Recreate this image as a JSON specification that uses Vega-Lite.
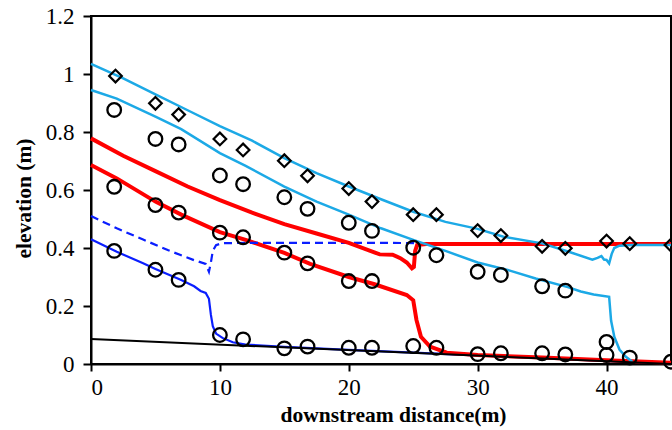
{
  "$schema": "https://vega.github.io/schema/vega-lite/v6.json",
  "width": 580,
  "height": 348,
  "autosize": {"type": "none"},
  "padding": {"left": 91, "top": 16, "right": 1, "bottom": 66},
  "background": "white",
  "config": {
    "view": {"stroke": "#000", "strokeWidth": 2},
    "axis": {
      "grid": false,
      "labelFont": "Liberation Serif", "labelFontSize": 23, "labelColor": "#000",
      "titleFont": "Liberation Serif", "titleFontSize": 21.5, "titleFontWeight": "bold", "titleColor": "#000",
      "domainColor": "#000", "domainWidth": 2, "tickColor": "#000", "tickWidth": 2
    }
  },
  "datasets": {
    "bed": [{"x": 0, "y": 0.086}, {"x": 45, "y": 0.0}],
    "blueSolid": [
      {"x": 0, "y": 0.43}, {"x": 2, "y": 0.387}, {"x": 4, "y": 0.348}, {"x": 5, "y": 0.328},
      {"x": 7, "y": 0.29}, {"x": 8, "y": 0.268}, {"x": 8.5, "y": 0.252}, {"x": 8.9, "y": 0.245},
      {"x": 9.15, "y": 0.225}, {"x": 9.3, "y": 0.17}, {"x": 9.45, "y": 0.13}, {"x": 9.7, "y": 0.105},
      {"x": 10.2, "y": 0.09}, {"x": 11, "y": 0.075}, {"x": 12, "y": 0.067}, {"x": 15, "y": 0.059},
      {"x": 20, "y": 0.049}, {"x": 25, "y": 0.039}, {"x": 30, "y": 0.03}, {"x": 35, "y": 0.02},
      {"x": 40, "y": 0.011}, {"x": 45, "y": 0.002}
    ],
    "blueDashed": [
      {"x": 0, "y": 0.51}, {"x": 2, "y": 0.468}, {"x": 4, "y": 0.43}, {"x": 6, "y": 0.392},
      {"x": 8, "y": 0.358}, {"x": 8.9, "y": 0.345}, {"x": 9.15, "y": 0.318}, {"x": 9.3, "y": 0.35},
      {"x": 9.45, "y": 0.39}, {"x": 9.7, "y": 0.41}, {"x": 10.2, "y": 0.417}, {"x": 15, "y": 0.418},
      {"x": 20, "y": 0.418}, {"x": 25.5, "y": 0.417}
    ],
    "redUpper": [
      {"x": 0, "y": 0.778}, {"x": 2.5, "y": 0.718}, {"x": 5, "y": 0.665}, {"x": 7.5, "y": 0.612},
      {"x": 10, "y": 0.565}, {"x": 12.5, "y": 0.522}, {"x": 15, "y": 0.482}, {"x": 17.5, "y": 0.45},
      {"x": 20, "y": 0.418}, {"x": 22.4, "y": 0.378}, {"x": 23.4, "y": 0.377}, {"x": 24, "y": 0.365},
      {"x": 24.5, "y": 0.35}, {"x": 24.9, "y": 0.33}, {"x": 25.05, "y": 0.335}, {"x": 25.15, "y": 0.39},
      {"x": 25.3, "y": 0.41}, {"x": 26, "y": 0.414}, {"x": 35, "y": 0.414}, {"x": 45, "y": 0.414}
    ],
    "redLower": [
      {"x": 0, "y": 0.686}, {"x": 2, "y": 0.64}, {"x": 5, "y": 0.56}, {"x": 7, "y": 0.515},
      {"x": 10, "y": 0.455}, {"x": 12, "y": 0.428}, {"x": 15, "y": 0.383}, {"x": 17, "y": 0.345},
      {"x": 20, "y": 0.3}, {"x": 22, "y": 0.275}, {"x": 24.5, "y": 0.238}, {"x": 25, "y": 0.22},
      {"x": 25.25, "y": 0.152}, {"x": 25.6, "y": 0.094}, {"x": 26.3, "y": 0.06}, {"x": 27.6, "y": 0.039},
      {"x": 30, "y": 0.031}, {"x": 35, "y": 0.022}, {"x": 40, "y": 0.013}, {"x": 45, "y": 0.004}
    ],
    "cyanUpper": [
      {"x": 0, "y": 1.035}, {"x": 2.5, "y": 0.985}, {"x": 5, "y": 0.93}, {"x": 7.5, "y": 0.875},
      {"x": 10, "y": 0.82}, {"x": 12.5, "y": 0.77}, {"x": 15, "y": 0.71}, {"x": 17.5, "y": 0.658},
      {"x": 20, "y": 0.612}, {"x": 22.5, "y": 0.568}, {"x": 25, "y": 0.525}, {"x": 27.5, "y": 0.49},
      {"x": 30, "y": 0.466}, {"x": 32, "y": 0.439}, {"x": 35, "y": 0.416}, {"x": 37, "y": 0.388},
      {"x": 38.9, "y": 0.36}, {"x": 39.3, "y": 0.366}, {"x": 39.6, "y": 0.372}, {"x": 39.8, "y": 0.36},
      {"x": 40, "y": 0.359}, {"x": 40.2, "y": 0.347}, {"x": 40.4, "y": 0.38}, {"x": 40.6, "y": 0.4},
      {"x": 41, "y": 0.408}, {"x": 42, "y": 0.41}, {"x": 45, "y": 0.41}
    ],
    "cyanLower": [
      {"x": 0, "y": 0.945}, {"x": 2, "y": 0.915}, {"x": 5, "y": 0.853}, {"x": 7, "y": 0.81},
      {"x": 10, "y": 0.727}, {"x": 12, "y": 0.683}, {"x": 15, "y": 0.612}, {"x": 17.5, "y": 0.56},
      {"x": 20, "y": 0.515}, {"x": 22.5, "y": 0.468}, {"x": 25, "y": 0.428}, {"x": 27.5, "y": 0.39},
      {"x": 30, "y": 0.35}, {"x": 32.5, "y": 0.322}, {"x": 34.5, "y": 0.295}, {"x": 37, "y": 0.265},
      {"x": 38, "y": 0.25}, {"x": 39, "y": 0.24}, {"x": 40.2, "y": 0.232}, {"x": 40.35, "y": 0.15},
      {"x": 40.6, "y": 0.094}, {"x": 41, "y": 0.05}, {"x": 41.5, "y": 0.025}, {"x": 42, "y": 0.008}
    ],
    "diamonds": [
      {"x": 1.9, "y": 0.993}, {"x": 5, "y": 0.899}, {"x": 6.8, "y": 0.86}, {"x": 10, "y": 0.776},
      {"x": 11.8, "y": 0.738}, {"x": 15, "y": 0.701}, {"x": 16.8, "y": 0.649}, {"x": 20, "y": 0.605},
      {"x": 21.8, "y": 0.56}, {"x": 25, "y": 0.515}, {"x": 26.8, "y": 0.515}, {"x": 30, "y": 0.46},
      {"x": 31.8, "y": 0.443}, {"x": 35, "y": 0.406}, {"x": 36.8, "y": 0.399}, {"x": 40, "y": 0.424},
      {"x": 41.8, "y": 0.415}, {"x": 45, "y": 0.41}
    ],
    "circles": [
      {"x": 1.8, "y": 0.876}, {"x": 5, "y": 0.776}, {"x": 6.8, "y": 0.757}, {"x": 10, "y": 0.65},
      {"x": 11.8, "y": 0.62}, {"x": 15, "y": 0.575}, {"x": 16.8, "y": 0.535}, {"x": 20, "y": 0.487},
      {"x": 21.8, "y": 0.459}, {"x": 25, "y": 0.401}, {"x": 26.8, "y": 0.375}, {"x": 30, "y": 0.318},
      {"x": 31.8, "y": 0.307}, {"x": 35, "y": 0.268}, {"x": 36.8, "y": 0.253}, {"x": 40, "y": 0.076},
      {"x": 41.8, "y": 0.022}, {"x": 45, "y": 0.008},
      {"x": 1.8, "y": 0.611}, {"x": 5, "y": 0.548}, {"x": 6.8, "y": 0.522}, {"x": 10, "y": 0.453},
      {"x": 11.8, "y": 0.437}, {"x": 15, "y": 0.384}, {"x": 16.8, "y": 0.347}, {"x": 20, "y": 0.286},
      {"x": 21.8, "y": 0.286}, {"x": 25, "y": 0.062}, {"x": 26.8, "y": 0.056}, {"x": 30, "y": 0.034},
      {"x": 31.8, "y": 0.037}, {"x": 35, "y": 0.037}, {"x": 36.8, "y": 0.033}, {"x": 40, "y": 0.031},
      {"x": 1.8, "y": 0.39}, {"x": 5, "y": 0.325}, {"x": 6.8, "y": 0.29}, {"x": 10, "y": 0.1},
      {"x": 11.8, "y": 0.085}, {"x": 15, "y": 0.054}, {"x": 16.8, "y": 0.06}, {"x": 20, "y": 0.056},
      {"x": 21.8, "y": 0.056}
    ]
  },
  "encoding": {
    "x": {
      "field": "x", "type": "quantitative",
      "scale": {"domain": [0, 45], "nice": false, "zero": false},
      "axis": {
        "values": [0, 10, 20, 30, 40], "format": "d",
        "title": "downstream distance(m)",
        "tickSize": 7, "labelPadding": 5, "titlePadding": 5, "titleX": 302
      }
    },
    "y": {
      "field": "y", "type": "quantitative",
      "scale": {"domain": [0, 1.2], "nice": false, "zero": false},
      "axis": {
        "values": [0, 0.2, 0.4, 0.6, 0.8, 1, 1.2], "format": "~g",
        "title": "elevation (m)",
        "tickSize": 8, "labelPadding": 9, "titlePadding": 10, "titleY": 182
      }
    }
  },
  "layer": [
    {"data": {"name": "blueSolid"}, "mark": {"type": "line", "color": "#0A1EFF", "strokeWidth": 2.2}},
    {"data": {"name": "redLower"}, "mark": {"type": "line", "color": "#FF0000", "strokeWidth": 4}},
    {"data": {"name": "blueDashed"}, "mark": {"type": "line", "color": "#0A1EFF", "strokeWidth": 2.2, "strokeDash": [8, 5]}},
    {"data": {"name": "redUpper"}, "mark": {"type": "line", "color": "#FF0000", "strokeWidth": 4}},
    {"data": {"name": "cyanLower"}, "mark": {"type": "line", "color": "#1CA9E6", "strokeWidth": 2.5}},
    {"data": {"name": "cyanUpper"}, "mark": {"type": "line", "color": "#1CA9E6", "strokeWidth": 2.5}},
    {"data": {"name": "bed"}, "mark": {"type": "line", "color": "#000000", "strokeWidth": 2}},
    {"data": {"name": "circles"}, "mark": {"type": "point", "shape": "circle", "filled": false, "color": "#000", "strokeWidth": 2.3, "size": 185, "opacity": 1}},
    {"data": {"name": "diamonds"}, "mark": {"type": "point", "shape": "diamond", "filled": false, "color": "#000", "strokeWidth": 2.2, "size": 160, "opacity": 1}}
  ]
}
